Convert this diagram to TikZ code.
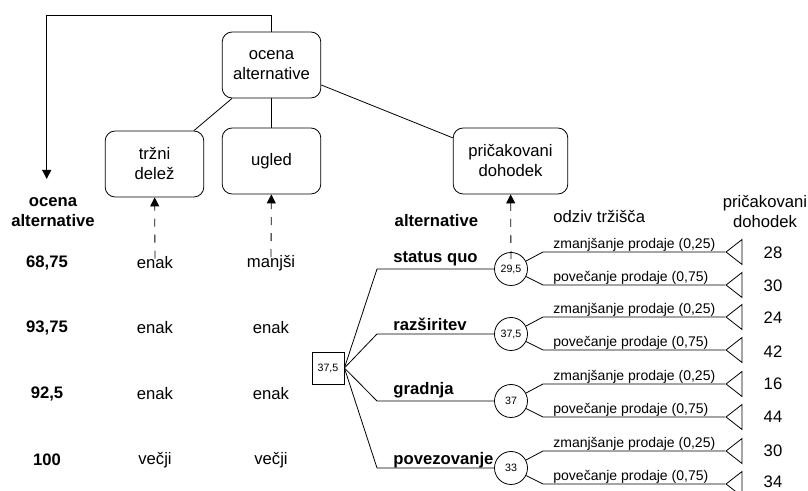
\documentclass[tikz,border=0pt]{standalone}
\usepackage{fontspec}
\setmainfont{Liberation Sans}
\usetikzlibrary{arrows.meta,positioning,shapes.geometric}

\begin{document}
\begin{tikzpicture}[
  x=0.75pt, y=-0.75pt, line width=0.6pt,
  font=\fontsize{12.5}{15}\selectfont, >={Triangle[length=6.75pt,width=6.75pt]},
  blk/.style={draw, rounded corners=7.5pt, align=center, minimum width=74pt, minimum height=49.5pt, inner sep=2pt},
  hdr/.style={font=\fontsize{12.5}{15}\selectfont\bfseries, align=center, inner sep=1pt},
  dsh/.style={->, dash pattern=on 6pt off 6pt, shorten <=-5pt},
  dec/.style={draw, minimum size=24pt, inner sep=0pt, font=\fontsize{8}{9}\selectfont},
  chn/.style={draw, circle, minimum size=24.75pt, inner sep=0pt, font=\fontsize{8}{9}\selectfont},
  alt/.style={font=\fontsize{12.5}{15}\selectfont\bfseries, anchor=south west, inner sep=0pt},
  brl/.style={font=\fontsize{10.5}{12}\selectfont, anchor=south west, inner xsep=0pt, inner ysep=0.5pt, pos=0, xshift=7.5pt},
  endn/.style={draw, isosceles triangle, isosceles triangle stretches, shape border rotate=180, anchor=apex, inner sep=0pt, minimum width=18.75pt, minimum height=12pt}
]
  \useasboundingbox (0,0) rectangle (808,491);
  \node[blk] (ocena) at (271.5,65) {ocena\\alternative};
  \node[blk] (trzni) at (154.5,164) {tržni\\delež};
  \node[blk] (ugled) at (271.5,161) {ugled};
  \node[blk, minimum width=86pt] (prich) at (510.5,161) {pričakovani\\dohodek};
  \draw (ocena) -- (trzni);
  \draw (ocena) -- (ugled);
  \draw (ocena) -- (prich);
  \coordinate (fbtop) at (46.7,15);
  \coordinate (fbend) at (46.7,179);
  \draw[->] (ocena.north) |- (fbtop) -- (fbend);
  \node[hdr] (hocena) at (53,212) {ocena\\alternative};
  \node[hdr] (r1) at (47,263) {68,75};
  \node[hdr] (r2) at (47,328) {93,75};
  \node[hdr] (r3) at (47,394) {92,5};
  \node[hdr] (r4) at (47,460) {100};
  \node (t1) at (155,263) {enak};
  \node (t2) at (155,328) {enak};
  \node (t3) at (155,394) {enak};
  \node (t4) at (155,460) {večji};
  \node (u1) at (271,263) {manjši};
  \node (u2) at (271,328) {enak};
  \node (u3) at (271,394) {enak};
  \node (u4) at (271,460) {večji};
  \draw[dsh] (t1) -- (trzni);
  \draw[dsh] (u1) -- (ugled);
  \node[hdr, anchor=west] (halt) at (393,221) {alternative};
  \node[anchor=west, inner sep=0pt] (hodziv) at (553,217) {odziv tržišča};
  \node[align=center, inner sep=1pt] (hdoh) at (765,212) {pričakovani\\dohodek};
  \node[dec] (root) at (328,368) {37,5};
  \node[chn] (c1) at (511,269) {29,5};
  \node[chn] (c2) at (511,334) {37,5};
  \node[chn] (c3) at (511,401) {37};
  \node[chn] (c4) at (511,468) {33};
  \draw[dsh] (c1) -- (prich);
  \coordinate (k1) at (377,269);
  \coordinate (k2) at (377,334);
  \coordinate (k3) at (377,401);
  \coordinate (k4) at (377,468);
  \draw (root.east) -- (k1) -- (c1);
  \draw (root.east) -- (k2) -- (c2);
  \draw (root.east) -- (k3) -- (c3);
  \draw (root.east) -- (k4) -- (c4);
  \node[alt] (a1) at (393,266) {status quo};
  \node[alt] (a2) at (393,331) {razširitev};
  \node[alt] (a3) at (393,398) {gradnja};
  \node[alt] (a4) at (393,468) {povezovanje};
  \coordinate (k11) at (543,252);
  \coordinate (k12) at (543,285);
  \coordinate (k21) at (543,317);
  \coordinate (k22) at (543,350);
  \coordinate (k31) at (543,384);
  \coordinate (k32) at (543,417);
  \coordinate (k41) at (543,451);
  \coordinate (k42) at (543,484);
  \node[endn] (e11) at (725,252) {};
  \node[endn] (e12) at (725,285) {};
  \node[endn] (e21) at (725,317) {};
  \node[endn] (e22) at (725,350) {};
  \node[endn] (e31) at (725,384) {};
  \node[endn] (e32) at (725,417) {};
  \node[endn] (e41) at (725,451) {};
  \node[endn] (e42) at (725,484) {};
  \draw (c1) -- (k11) -- node[brl] {zmanjšanje prodaje (0,25)} (e11.apex);
  \draw (c1) -- (k12) -- node[brl] {povečanje prodaje (0,75)} (e12.apex);
  \draw (c2) -- (k21) -- node[brl] {zmanjšanje prodaje (0,25)} (e21.apex);
  \draw (c2) -- (k22) -- node[brl] {povečanje prodaje (0,75)} (e22.apex);
  \draw (c3) -- (k31) -- node[brl] {zmanjšanje prodaje (0,25)} (e31.apex);
  \draw (c3) -- (k32) -- node[brl] {povečanje prodaje (0,75)} (e32.apex);
  \draw (c4) -- (k41) -- node[brl] {zmanjšanje prodaje (0,25)} (e41.apex);
  \draw (c4) -- (k42) -- node[brl] {povečanje prodaje (0,75)} (e42.apex);
  \node (v11) at (773,253) {28};
  \node (v12) at (773,286) {30};
  \node (v21) at (773,318) {24};
  \node (v22) at (773,352) {42};
  \node (v31) at (773,384) {16};
  \node (v32) at (773,417) {44};
  \node (v41) at (773,451) {30};
  \node (v42) at (773,482) {34};
\end{tikzpicture}
\end{document}
